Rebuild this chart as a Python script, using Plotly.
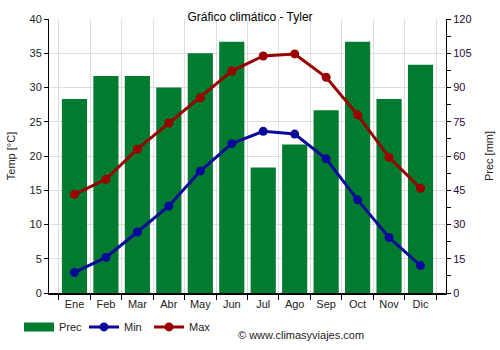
import plotly.graph_objects as go

months = ["Ene", "Feb", "Mar", "Abr", "May", "Jun", "Jul", "Ago", "Sep", "Oct", "Nov", "Dic"]
prec = [85, 95, 95, 90, 105, 110, 55, 65, 80, 110, 85, 100]
tmin = [3.0, 5.2, 8.9, 12.7, 17.8, 21.8, 23.6, 23.2, 19.6, 13.6, 8.1, 4.0]
tmax = [14.4, 16.6, 21.0, 24.8, 28.5, 32.4, 34.6, 34.9, 31.5, 26.0, 19.8, 15.3]

font = "Liberation Sans, Arial, sans-serif"
green = "#007b30"
fig = go.Figure()
fig.add_trace(go.Bar(x=months, y=prec, name="Prec", marker_color=green,
                     marker_line_width=0, yaxis="y", width=0.8, showlegend=False))
# legend proxy for the precipitation bars (wide rectangle swatch)
fig.add_trace(go.Scatter(x=[None], y=[None], name="Prec", mode="lines", yaxis="y",
                         line=dict(color=green, width=9)))
fig.add_trace(go.Scatter(x=months, y=tmin, name="Min", mode="lines+markers", yaxis="y2",
                         line=dict(color="#0a0a9a", width=3), marker=dict(size=9)))
fig.add_trace(go.Scatter(x=months, y=tmax, name="Max", mode="lines+markers", yaxis="y2",
                         line=dict(color="#990000", width=3), marker=dict(size=9)))

fig.update_layout(
    width=500, height=350,
    margin=dict(l=49, r=54, t=19, b=57, autoexpand=False),
    paper_bgcolor="white", plot_bgcolor="white",
    font=dict(family=font, size=11, color="#222"),
    title=dict(text="Gráfico climático - Tyler", x=0.5, xanchor="center", y=0.953, yanchor="middle",
               font=dict(size=12, color="#000")),
    showlegend=True,
    legend=dict(orientation="h", xref="container", yref="container", x=0.038, y=0.066,
                xanchor="left", yanchor="middle",
                font=dict(size=11), traceorder="normal", itemwidth=30,
                entrywidth=20, entrywidthmode="pixels"),
    xaxis=dict(type="category", tickson="boundaries", showgrid=True, gridcolor="#dddddd",
               ticks="outside", ticklen=5, tickcolor="#000", showline=True, linecolor="#000",
               linewidth=2, tickfont=dict(size=11)),
    yaxis=dict(range=[0, 120], dtick=15, side="right", showgrid=False,
               showline=True, linecolor="#000", linewidth=1, ticks="outside", ticklen=4,
               tickcolor="#000", tickfont=dict(color="#2a0a3a"),
               minor=dict(dtick=7.5, ticks="outside", ticklen=4, tickcolor="#000"),
               title=dict(text="Prec [mm]", font=dict(size=11), standoff=14), zeroline=False),
    yaxis2=dict(range=[0, 40], dtick=5, side="left", overlaying="y", showgrid=True,
                gridcolor="#dddddd", showline=True, layer="below traces",
                linecolor="#000", linewidth=1, ticks="outside", ticklen=4, tickcolor="#000",
                title=dict(text="Temp [°C]", font=dict(size=11), standoff=11), zeroline=False),
    bargap=0.2,
)
fig.add_annotation(text="© www.climasyviajes.com", xref="paper", yref="paper",
                   x=0.471, y=-0.125, xanchor="left", yanchor="top", showarrow=False,
                   font=dict(size=11, color="#222"))
fig.write_html("out.html")
